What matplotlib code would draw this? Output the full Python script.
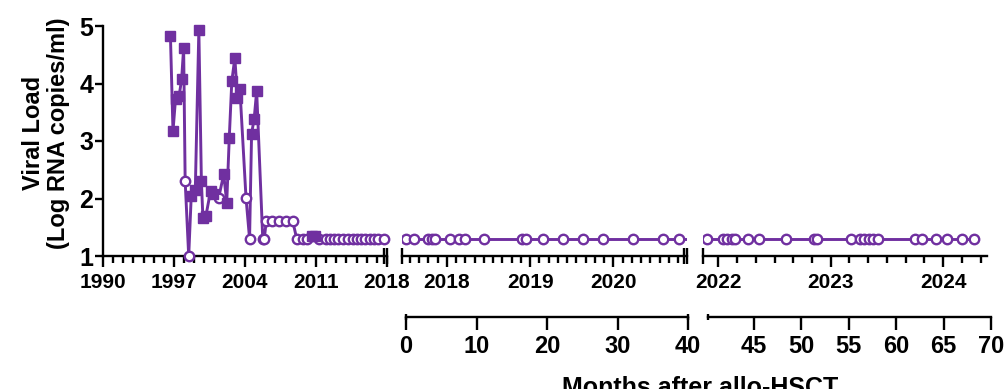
import numpy as np
import matplotlib
matplotlib.use("Agg")
import matplotlib.pyplot as plt
from matplotlib.ticker import FixedLocator, NullFormatter

plt.rcParams["font.family"] = ["Liberation Sans", "DejaVu Sans"]
plt.rcParams["font.weight"] = "bold"

PURPLE = "#7030A0"

# ---- Pre-transplant viral load (decimal year, log10 copies/ml, 1 = detectable) ----
pre_years = [1996.65, 1996.9, 1997.15, 1997.5, 1997.75, 1997.95, 1998.1, 1998.45,
             1998.7, 1999.1, 1999.45, 1999.7, 1999.85, 2000.15, 2000.6, 2000.85,
             2001.4, 2001.9, 2002.2, 2002.45, 2002.7, 2003.0, 2003.25, 2003.5,
             2004.1, 2004.45, 2004.65, 2004.9, 2005.15, 2005.75, 2005.9,
             2006.1, 2006.7, 2007.4, 2008.05, 2008.7, 2009.1, 2009.7, 2010.15,
             2010.6, 2010.9, 2011.3, 2012.0, 2012.4, 2012.8, 2013.2, 2013.65,
             2014.2, 2014.6, 2015.0, 2015.4, 2015.85, 2016.3, 2016.7, 2017.1,
             2017.7]
pre_load = [4.82, 3.17, 3.73, 3.78, 4.07, 4.62, 2.30, 1.00,
            2.05, 2.15, 4.93, 2.30, 1.66, 1.70, 2.13, 2.08,
            2.01, 2.42, 1.93, 3.06, 4.04, 4.45, 3.75, 3.90,
            2.01, 1.30, 3.13, 3.38, 3.87, 1.30, 1.30,
            1.61, 1.61, 1.61, 1.61, 1.61, 1.30, 1.30, 1.30,
            1.34, 1.34, 1.30, 1.30, 1.30, 1.30, 1.30, 1.30,
            1.30, 1.30, 1.30, 1.30, 1.30, 1.30, 1.30, 1.30,
            1.30]
pre_detected = [1, 1, 1, 1, 1, 1, 0, 0,
                1, 1, 1, 1, 1, 1, 1, 1,
                0, 1, 1, 1, 1, 1, 1, 1,
                0, 0, 1, 1, 1, 0, 0,
                0, 0, 0, 0, 0, 0, 0, 0,
                1, 1, 0, 0, 0, 0, 0, 0,
                0, 0, 0, 0, 0, 0, 0, 0,
                0]

# ---- Post-transplant viral load (all below detection limit) ----
post_years = [2017.51, 2017.61, 2017.77, 2017.82, 2017.86, 2018.04, 2018.14, 2018.22,
              2018.44, 2018.90, 2018.95, 2019.16, 2019.39, 2019.63, 2019.88, 2020.24,
              2020.60, 2020.79,
              2021.90, 2022.04, 2022.08, 2022.12, 2022.15, 2022.26, 2022.36, 2022.60,
              2022.85, 2022.88, 2023.18, 2023.26, 2023.30, 2023.34, 2023.38, 2023.42,
              2023.75, 2023.81, 2023.94, 2024.03, 2024.17, 2024.27]
post_load = [1.3, 1.3, 1.3, 1.3, 1.3, 1.3, 1.3, 1.3,
             1.3, 1.3, 1.3, 1.3, 1.3, 1.3, 1.3, 1.3,
             1.3, 1.3,
             1.3, 1.3, 1.3, 1.3, 1.3, 1.3, 1.3, 1.3,
             1.3, 1.3, 1.3, 1.3, 1.3, 1.3, 1.3, 1.3,
             1.3, 1.3, 1.3, 1.3, 1.3, 1.3]

# ---- Axis labels ----
y_ticks = [1, 2, 3, 4, 5]
era_ticks = [1990, 1997, 2004, 2011, 2018]
post_ticks_a = [2018, 2019, 2020]
post_ticks_b = [2022, 2023, 2024]
month_ticks_a = [0, 10, 20, 30, 40]
month_ticks_b = [45, 50, 55, 60, 65, 70]

W, H = 1007, 389
fig = plt.figure(figsize=(W / 100, H / 100), dpi=100)


def box(x0, x1, ytop, ybot):
    return [x0 / W, 1 - ybot / H, (x1 - x0) / W, (ybot - ytop) / H]


LW = 1.7
Y_BOT, Y_TOP = 256, 26


def style_panel(ax, xlim, majors, minors, left_axis=False):
    ax.set_xlim(*xlim)
    ax.set_ylim(1, 5)
    for s in ("top", "right"):
        ax.spines[s].set_visible(False)
    ax.spines["left"].set_visible(left_axis)
    ax.spines["bottom"].set_linewidth(LW)
    ax.spines["left"].set_linewidth(LW)
    ax.xaxis.set_major_locator(FixedLocator(majors))
    ax.xaxis.set_minor_locator(FixedLocator(minors))
    ax.xaxis.set_minor_formatter(NullFormatter())
    ax.set_xticklabels([str(t) for t in majors], fontsize=15, fontweight="bold")
    ax.tick_params(axis="x", which="major", direction="out", length=8, width=LW, pad=4)
    ax.tick_params(axis="x", which="minor", direction="out", length=5, width=LW)
    if left_axis:
        ax.set_yticks(y_ticks)
        ax.set_yticklabels([str(t) for t in y_ticks], fontsize=18, fontweight="bold")
        ax.tick_params(axis="y", direction="out", length=6, width=LW, pad=1)
    else:
        ax.set_yticks([])
    ax.patch.set_alpha(0)


def break_marks(ax, side, double):
    tr = ax.get_xaxis_transform()
    xr = ax.get_xlim()
    x = xr[1] if side == "right" else xr[0]
    px = (xr[1] - xr[0]) / (ax.get_position().width * W)
    dy = 8 / (Y_BOT - Y_TOP)
    offs = [0, -3.5] if double else [0]
    for o in offs:
        ax.plot([x + o * px, x + o * px], [-dy, dy], color="black", lw=LW,
                transform=tr, clip_on=False, solid_capstyle="butt")


def draw_series(ax, xs, ys, det, clip):
    xs = np.asarray(xs)
    ys = np.asarray(ys)
    det = np.asarray(det, dtype=bool)
    ax.plot(xs, ys, "-", color=PURPLE, lw=2.1, clip_on=clip, zorder=2)
    ax.plot(xs[~det], ys[~det], "o", ms=6.8, mfc="white", mec=PURPLE, mew=1.7,
            ls="none", clip_on=clip, zorder=3)
    if det.any():
        ax.plot(xs[det], ys[det], "s", ms=7.4, mfc=PURPLE, mec=PURPLE, mew=1.0,
                ls="none", clip_on=clip, zorder=4)


# Panel 1: long-term history
ax1 = fig.add_axes(box(103, 387, Y_TOP, Y_BOT))
style_panel(ax1, (1990, 2018), era_ticks, np.arange(1990, 2019, 1), left_axis=True)
draw_series(ax1, pre_years, pre_load, pre_detected, clip=False)
break_marks(ax1, "right", True)

# Panel 2: first years after transplant
ax2 = fig.add_axes(box(402, 687, Y_TOP, Y_BOT))
style_panel(ax2, (2017.46, 2020.885), post_ticks_a,
            2017 + np.arange(5, 36) / 9.0)
draw_series(ax2, post_years, post_load, [0] * len(post_years), clip=True)
break_marks(ax2, "left", False)
break_marks(ax2, "right", True)

# Panel 3: recent follow-up
ax3 = fig.add_axes(box(703, 987, Y_TOP, Y_BOT))
style_panel(ax3, (2021.864, 2024.39), post_ticks_b,
            2022 + np.arange(0, 15) / 6.0)
draw_series(ax3, post_years, post_load, [0] * len(post_years), clip=True)
break_marks(ax3, "left", False)


# Months after transplant axes
def month_axis(x0, x1, lim, ticks):
    ax = fig.add_axes([x0 / W, 1 - 317 / H, (x1 - x0) / W, 0.001])
    ax.set_xlim(*lim)
    ax.set_ylim(0, 1)
    for s in ("top", "right", "left"):
        ax.spines[s].set_visible(False)
    ax.spines["bottom"].set_linewidth(LW)
    ax.set_yticks([])
    ax.set_xticks(ticks)
    ax.set_xticklabels([str(t) for t in ticks], fontsize=17, fontweight="bold")
    ax.tick_params(axis="x", direction="out", length=9, width=LW, pad=4)
    ax.patch.set_alpha(0)
    return ax


mx1 = month_axis(406, 688, (0, 40), month_ticks_a)
mx2 = month_axis(708, 991, (40.15, 70), month_ticks_b)
for ax, xv in ((mx1, 0), (mx1, 40), (mx2, 40.15)):
    ax.plot([xv, xv], [-7, 7], color="black", lw=LW, clip_on=False,
            transform=ax.get_xaxis_transform(), solid_capstyle="butt")

fig.text(46 / W, 1 - 133 / H, "Viral Load\n(Log RNA copies/ml)", rotation=90,
         ha="center", va="center", fontsize=17, fontweight="bold", linespacing=1.1)
fig.text(700 / W, 1 - 395 / H, "Months after allo-HSCT", ha="center",
         va="baseline", fontsize=18, fontweight="bold")

fig.savefig("out.png", dpi=100)
